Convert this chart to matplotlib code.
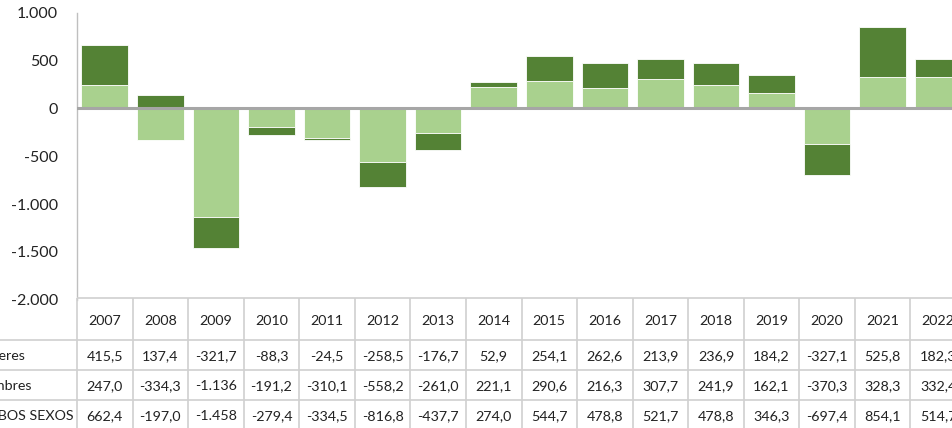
import matplotlib
matplotlib.use("Agg")
import matplotlib.pyplot as plt
import numpy as np

# data (miles de personas)
years = ['2007', '2008', '2009', '2010', '2011', '2012', '2013', '2014',
         '2015', '2016', '2017', '2018', '2019', '2020', '2021', '2022']
mujeres = [415.5, 137.4, -321.7, -88.3, -24.5, -258.5, -176.7, 52.9,
           254.1, 262.6, 213.9, 236.9, 184.2, -327.1, 525.8, 182.3]
hombres = [247.0, -334.3, -1136.0, -191.2, -310.1, -558.2, -261.0, 221.1,
           290.6, 216.3, 307.7, 241.9, 162.1, -370.3, 328.3, 332.4]
ambos = [662.4, -197.0, -1458.0, -279.4, -334.5, -816.8, -437.7, 274.0,
         544.7, 478.8, 521.7, 478.8, 346.3, -697.4, 854.1, 514.7]
row_labels = ['Mujeres', 'Hombres', 'AMBOS SEXOS']
yticks = [-2000, -1500, -1000, -500, 0, 500, 1000]

light = '#a9d18e'
dark = '#548235'
grid_c = '#d0d0d0'
txt_c = '#222222'
plt.rcParams['font.family'] = ['Lato', 'DejaVu Sans']


def fmt(v, dec=1):
    # spanish number format: 1.136 / 415,5
    if abs(v) >= 1000:
        s = f"{abs(v):,.0f}".replace(',', '.')
    else:
        s = f"{abs(v):.{dec}f}".replace('.', ',')
    return ('-' if v < 0 else '') + s


W, H = 953, 428
fig = plt.figure(figsize=(W / 100, H / 100), dpi=100)

x0, x1 = 77, 966          # plot area in pixels
y_top, y_bot = 12.8, 299.8
ax = fig.add_axes([x0 / W, 1 - y_bot / H, (x1 - x0) / W, (y_bot - y_top) / H])

x = np.arange(len(years))
h = np.array(hombres)
m = np.array(mujeres)
bottom_m = np.where(np.sign(m) == np.sign(h), h, 0)
ax.bar(x, h, width=0.84, color=light, edgecolor='white', linewidth=0.6, zorder=2)
ax.bar(x, m, width=0.84, bottom=bottom_m, color=dark, edgecolor='white',
       linewidth=0.6, zorder=2)

ax.set_xlim(-0.5, len(years) - 0.5)
ax.set_ylim(-2000, 1000)
ax.set_yticks(yticks)
ax.set_yticklabels([fmt(v, 0) for v in yticks])
ax.tick_params(axis='y', length=0, pad=13.5, labelsize=11.5, colors=txt_c)
ax.set_xticks([])
for s in ['top', 'right', 'bottom']:
    ax.spines[s].set_visible(False)
ax.spines['left'].set_color('#bfbfbf')
ax.spines['left'].set_linewidth(1.0)
ax.axhline(0, color='#a6a6a6', lw=2.2, zorder=3)

# data table underneath
rows_y = [298, 340, 370, 400, 430]
ax_t = fig.add_axes([x0 / W, 1 - 440 / H, (x1 - x0) / W, (440 - 298) / H])
ax_t.set_xlim(-0.5, len(years) - 0.5)
ax_t.set_ylim(440, 298)
ax_t.axis('off')

ax_t.hlines(rows_y[0], -0.5, len(years) - 0.5, color=grid_c, lw=1.2, clip_on=False)
ax_t.hlines(rows_y[1:], -3, len(years) - 0.5, color=grid_c, lw=1.2, clip_on=False)
ax_t.vlines(np.arange(len(years) + 1) - 0.5, 298, 440, color=grid_c, lw=1.2,
            clip_on=False)

fs = 10.3
label_x = -0.5 - 102 / ((x1 - x0) / len(years))
for i, yr in enumerate(years):
    ax_t.text(i, (rows_y[0] + rows_y[1]) / 2 + 2, yr, ha='center', va='center',
              fontsize=fs, color=txt_c)
for r, vals in enumerate([mujeres, hombres, ambos]):
    yc = (rows_y[r + 1] + rows_y[r + 2]) / 2 + 1
    ax_t.text(label_x, yc, row_labels[r], ha='left', va='center',
              fontsize=fs, color=txt_c, clip_on=False)
    for i, v in enumerate(vals):
        ax_t.text(i, yc, fmt(v), ha='center', va='center', fontsize=fs,
                  color=txt_c, clip_on=False)

fig.savefig('out.png', dpi=100)
